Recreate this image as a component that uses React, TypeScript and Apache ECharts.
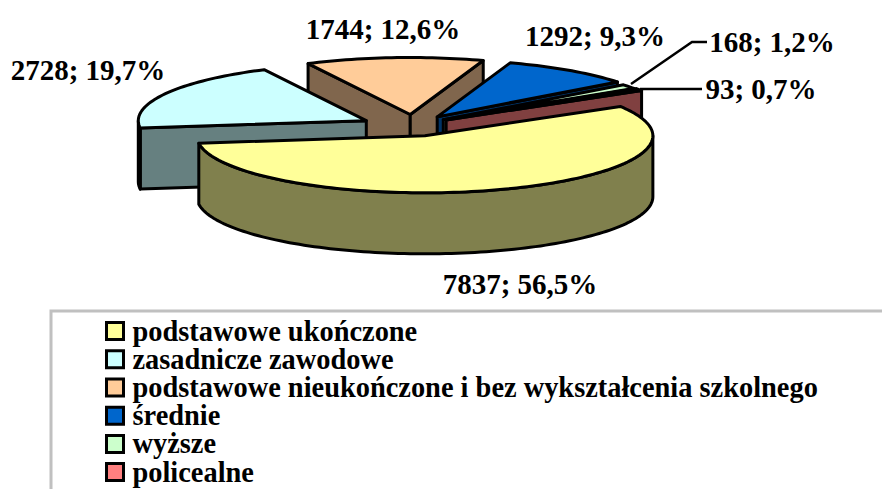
import React, { useEffect, useRef } from "react";
import * as echarts from "echarts";

const categories = [
  "podstawowe ukończone",
  "zasadnicze zawodowe",
  "podstawowe nieukończone i bez wykształcenia szkolnego",
  "średnie",
  "wyższe",
  "policealne",
];
const values = [7837, 2728, 1744, 1292, 168, 93];
const topColors = ["#FFFF99", "#CCFFFF", "#FFCC99", "#0066CC", "#CCFFCC", "#FF8080"];
const sideColors = ["#80804D", "#668080", "#80664D", "#003366", "#668066", "#804040"];
const explosion = [33, 54, 54, 40, 36, 38];
const sliceLift = [0, 1, 0, 3, 3, 3];
const paintOrder = [2, 1, 3, 4, 5, 0];

const W = 882;
const H = 489;
const CX = 414;
const CY = 128;
const RX = 228;
const RY = 57;
const DEPTH = 61;
const START_ANGLE = -31;
const FONT = '"Liberation Serif", "Times New Roman", serif';
const LABEL_SIZE = 29;
const LEGEND_SIZE = 28.4;

const labelAnchors: [number, number][] = [
  [520, 284],
  [88, 70],
  [383, 29],
  [595, 36],
  [772, 42],
  [761, 89],
];

const total = values.reduce((a, b) => a + b, 0);
const rad = (d: number) => (d * Math.PI) / 180;

function sliceRange(i: number): [number, number] {
  const before = values.slice(0, i).reduce((a, b) => a + b, 0);
  return [START_ANGLE + (before / total) * 360, START_ANGLE + ((before + values[i]) / total) * 360];
}

function labelText(i: number) {
  const pct = ((values[i] / total) * 100).toFixed(1).replace(".", ",");
  return `${values[i]}; ${pct}%`;
}

function renderSlice(i: number) {
  return () => {
    const [a0, a1] = sliceRange(i);
    const mid = rad((a0 + a1) / 2);
    const k = explosion[i];
    const ax = CX + k * Math.cos(mid);
    const ay = CY + (k * Math.sin(mid) * RY) / RX - sliceLift[i];
    const pt = (deg: number): [number, number] => [
      ax + RX * Math.cos(rad(deg)),
      ay + RY * Math.sin(rad(deg)),
    ];
    const arc = (from: number, to: number) => {
      const n = Math.max(2, Math.ceil(Math.abs(to - from) / 1.5));
      const out: [number, number][] = [];
      for (let j = 0; j <= n; j++) out.push(pt(from + ((to - from) * j) / n));
      return out;
    };
    const down = (p: [number, number]): [number, number] => [p[0], p[1] + DEPTH];
    const line = { stroke: "#000", lineWidth: 3, lineJoin: "round" as const };
    const children: any[] = [];
    const wall = (points: [number, number][]) =>
      children.push({
        type: "polygon",
        shape: { points },
        style: { fill: sideColors[i], ...line },
      });
    const apex: [number, number] = [ax, ay];
    if (Math.cos(rad(a0)) < 0) wall([apex, pt(a0), down(pt(a0)), down(apex)]);
    if (Math.cos(rad(a1)) > 0) wall([apex, pt(a1), down(pt(a1)), down(apex)]);
    const f0 = Math.max(a0, 0);
    const f1 = Math.min(a1, 180);
    if (f1 > f0) {
      const top = arc(f0, f1);
      wall([...top, ...top.slice().reverse().map(down)]);
    }
    children.push({
      type: "polygon",
      shape: { points: [apex, ...arc(a0, a1)] },
      style: { fill: topColors[i], ...line },
    });
    return { type: "group", children };
  };
}

export default function App() {
  const ref = useRef<HTMLDivElement>(null);
  useEffect(() => {
    const chart = echarts.init(ref.current!, undefined, { renderer: "svg" });
    chart.setOption({
      animation: false,
      backgroundColor: "#fff",
      legend: {
        orient: "vertical",
        left: 105,
        top: 317,
        height: 400,
        width: 770,
        padding: 0,
        itemWidth: 17,
        itemHeight: 17,
        itemGap: 0,
        selectedMode: false,
        icon: "rect",
        textStyle: {
          fontFamily: FONT,
          fontWeight: "bold",
          fontSize: LEGEND_SIZE,
          lineHeight: 28.2,
          color: "#000",
          padding: [0, 0, 0, 4],
        },
        data: categories.map((name, i) => ({
          name,
          itemStyle: { color: topColors[i], borderColor: "#000", borderWidth: 3 },
        })),
      },
      series: paintOrder.map((i) => ({
        type: "custom",
        name: categories[i],
        coordinateSystem: "none",
        silent: true,
        itemStyle: { color: topColors[i] },
        data: [[values[i]]],
        renderItem: renderSlice(i),
      })),
      graphic: [
        {
          type: "rect",
          shape: { x: 51, y: 311, width: 900, height: 300 },
          style: { fill: "none", stroke: "#C0C0C0", lineWidth: 3 },
          silent: true,
          z: -1,
        },
        {
          type: "polyline",
          shape: { points: [[631, 84], [692, 42], [707, 42]] },
          style: { fill: "none", stroke: "#000", lineWidth: 2.5 },
          z: 10,
        },
        {
          type: "polyline",
          shape: { points: [[640, 89], [702, 89]] },
          style: { fill: "none", stroke: "#000", lineWidth: 2.5 },
          z: 10,
        },
        ...values.map((_, i) => ({
          type: "text",
          x: labelAnchors[i][0],
          y: labelAnchors[i][1],
          z: 10,
          style: {
            text: labelText(i),
            fontFamily: FONT,
            fontWeight: "bold",
            fontSize: LABEL_SIZE,
            fill: "#000",
            align: "center",
            verticalAlign: "middle",
          },
        })),
      ],
    });
    return () => chart.dispose();
  }, []);
  return (
    <div
      ref={ref}
      style={{ position: "fixed", left: 0, top: 0, width: W, height: H, background: "#fff" }}
    />
  );
}
